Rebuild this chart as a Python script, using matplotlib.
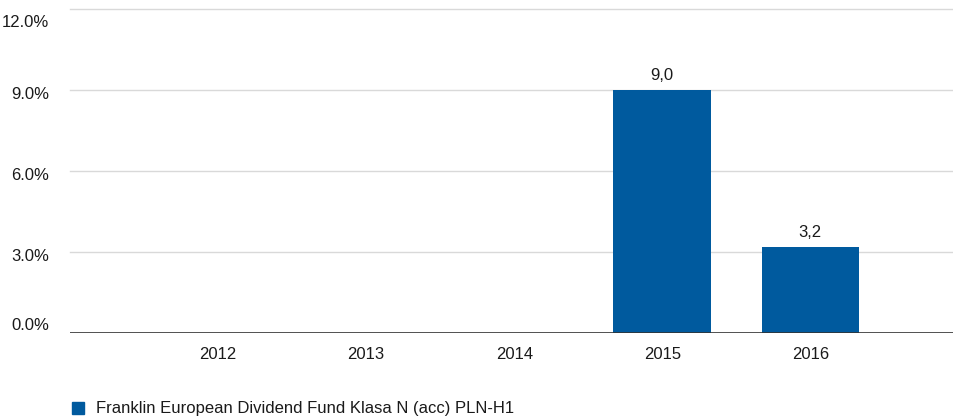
import numpy as np
import matplotlib
matplotlib.use("Agg")
from matplotlib import pyplot as plt
from matplotlib.patches import Rectangle
from matplotlib.transforms import ScaledTranslation

lata = ["2012", "2013", "2014", "2015", "2016"]
stopy_zwrotu = [np.nan, np.nan, np.nan, 9.0, 3.2]
etykiety = ["", "", "", "9,0", "3,2"]
nazwa_funduszu = "Franklin European Dividend Fund Klasa N (acc) PLN-H1"
y_ticki = [0, 3, 6, 9, 12]

kolor = "#005a9e"
kolor_tekstu = "#1a1a1a"

plt.rcParams["font.family"] = ["Liberation Sans", "DejaVu Sans"]
plt.rcParams["font.size"] = 12

W, H = 954, 416
fig = plt.figure(figsize=(W / 100, H / 100), dpi=100)
ax = fig.add_axes([70 / W, 83 / H, 884 / W, 324 / H])

x = np.arange(len(lata))
ax.bar(x, stopy_zwrotu, width=0.66, color=kolor, zorder=3)
for xi, wartosc, tekst in zip(x, stopy_zwrotu, etykiety):
    if tekst:
        ax.annotate(tekst, (xi, wartosc), xytext=(0, 5), textcoords="offset points",
                    ha="center", va="bottom", color=kolor_tekstu)

ax.set_xlim(-1, 4.97)
ax.set_ylim(0, 12)
ax.set_xticks(x)
ax.set_xticklabels(lata)
ax.set_yticks(y_ticki)
ax.set_yticklabels([f"{v:.1f}%" for v in y_ticki])
ax.tick_params(axis="both", length=0, colors=kolor_tekstu)
ax.tick_params(axis="y", pad=15)
ax.tick_params(axis="x", pad=10)

# etykiety osi Y: skrajne wciągnięte do środka, pozostałe lekko poniżej linii
for v, lab in zip(y_ticki, ax.get_yticklabels()):
    if v == y_ticki[0]:
        lab.set_va("bottom")
        przes = 0
    elif v == y_ticki[-1]:
        lab.set_va("top")
        przes = -6
    else:
        przes = -3
    lab.set_transform(lab.get_transform() + ScaledTranslation(0, przes / 100, fig.dpi_scale_trans))

for v in y_ticki[1:]:
    ax.axhline(v, color="#d9d9d9", lw=1, zorder=1, clip_on=False)
ax.axhline(0, color="#333333", lw=1.2, zorder=4)

for s in ax.spines.values():
    s.set_visible(False)

# legenda na dole, lekko przycięta jak w oryginale
fig.patches.append(Rectangle((72 / W, 2 / H), 12 / W, 12 / H, color=kolor,
                             transform=fig.transFigure, figure=fig))
fig.text(96 / W, 3 / H, nazwa_funduszu, ha="left", va="baseline", color=kolor_tekstu)

fig.savefig("out.png", dpi=100)
